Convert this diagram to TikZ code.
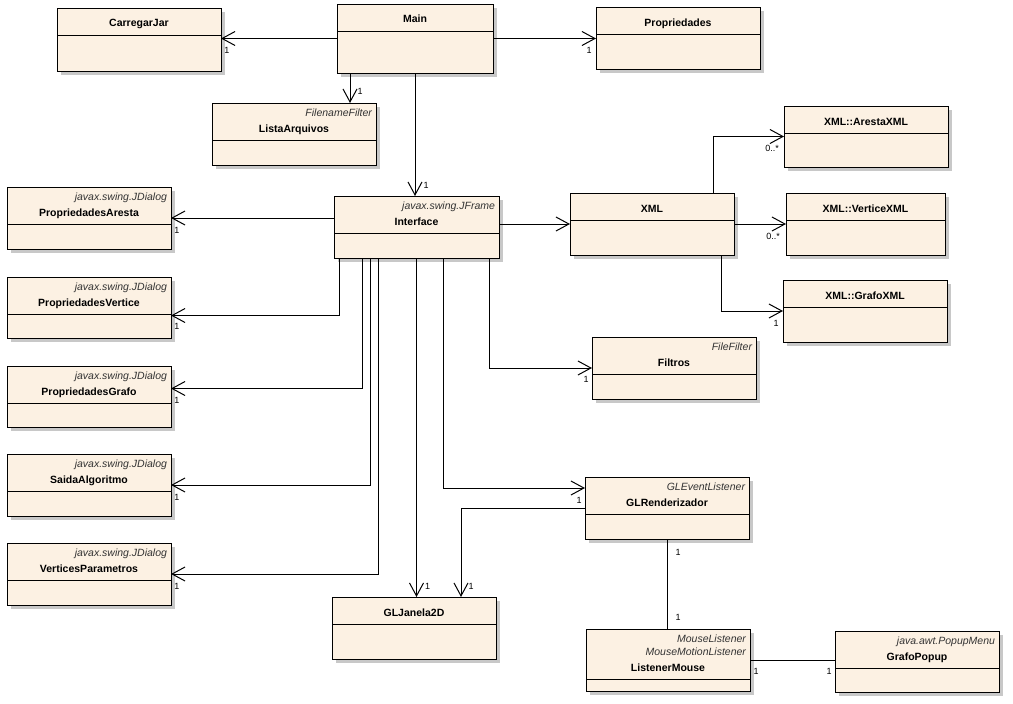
\documentclass[tikz,border=0pt]{standalone}
\usepackage{fontspec}
\setmainfont{Liberation Sans}
\usetikzlibrary{arrows.meta}
\definecolor{classfill}{RGB}{252,241,227}
\definecolor{shadowgray}{RGB}{200,200,200}
% class box: [stereotype]{name}{x1}{y1}{x2}{y2}{stereotype lines}{title}
\newcommand{\umlclass}[8][]{%
  \pgfmathsetmacro{\ydiv}{#4+(#7==0 ? 27 : (#7==1 ? 37 : 50))}
  \pgfmathsetmacro{\ytitle}{#4+(#7==0 ? 19 : (#7==1 ? 29 : 42))}
  \fill[shadowgray] (#3+4,#4+4) rectangle (#5+4,#6+4);
  \node[classbox, minimum width=#5-#3, minimum height=#6-#4] (#2) at ({(#3+#5)/2},{(#4+#6)/2}) {};
  \draw[line width=1pt] (#3,\ydiv) -- (#5,\ydiv);
  \node[classname, anchor=base] (#2-title) at ({(#3+#5)/2},\ytitle) {#8};
  \ifx\relax#1\relax\else
    \node[stereo, anchor=base east] (#2-stereo) at (#5-3.5,#4+13) {#1};
  \fi
}
\begin{document}
\begin{tikzpicture}[x=1pt, y=-1pt, line width=1pt,
  classbox/.style={draw, fill=classfill, line width=1pt, inner sep=0pt, outer sep=0pt},
  classname/.style={font=\fontsize{10.5}{12}\selectfont\bfseries, inner sep=0pt},
  stereo/.style={font=\fontsize{10.5}{12}\selectfont\itshape, text=black!80, inner sep=0pt},
  mult/.style={font=\fontsize{9}{10}\selectfont, inner sep=0pt, anchor=center},
  nav/.style={-{Straight Barb[length=13pt, width=14pt]}}]
\useasboundingbox (0,0) rectangle (1013,704);
% Classes
\umlclass{carregar}{57}{8}{221}{71}{0}{CarregarJar}
\umlclass{main}{337}{4}{493}{73}{0}{Main}
\umlclass{props}{596}{7}{760}{69}{0}{Propriedades}
\umlclass[FilenameFilter]{lista}{212}{103}{376}{165}{1}{ListaArquivos}
\umlclass{axml}{784}{106}{948}{167}{0}{XML::ArestaXML}
\umlclass[javax.swing.JFrame]{iface}{334}{196}{499}{258}{1}{Interface}
\umlclass{xml}{570}{193}{734}{255}{0}{XML}
\umlclass{vxml}{786}{193}{945}{255}{0}{XML::VerticeXML}
\umlclass{gxml}{783}{280}{947}{342}{0}{XML::GrafoXML}
\umlclass[javax.swing.JDialog]{paresta}{7}{187}{171}{249}{1}{PropriedadesAresta}
\umlclass[javax.swing.JDialog]{pvert}{7}{277}{171}{338}{1}{PropriedadesVertice}
\umlclass[javax.swing.JDialog]{pgrafo}{7}{366}{171}{427}{1}{PropriedadesGrafo}
\umlclass[FileFilter]{filtros}{592}{337}{756}{399}{1}{Filtros}
\umlclass[javax.swing.JDialog]{saida}{7}{454}{171}{516}{1}{SaidaAlgoritmo}
\umlclass[GLEventListener]{glrend}{585}{477}{749}{539}{1}{GLRenderizador}
\umlclass[javax.swing.JDialog]{vparam}{7}{543}{171}{605}{1}{VerticesParametros}
\umlclass{janela}{332}{597}{496}{659}{0}{GLJanela2D}
\umlclass[MouseListener]{lmouse}{586}{629}{750}{691}{2}{ListenerMouse}
\node[stereo, anchor=base east] (lmouse-stereo2) at (746.5,655) {MouseMotionListener};
\umlclass[java.awt.PopupMenu]{popup}{835}{631}{999}{692}{1}{GrafoPopup}
% Main
\draw[nav] (main.west) -- (carregar.east |- main.west) node[mult, shift={(6,12)}] {1};
\draw[nav] (main.east) -- (props.west |- main.east) node[mult, shift={(-7,12)}] {1};
\draw[nav] ([xshift=13pt]main.south west) -- ([xshift=13pt]main.south west |- lista.north) node[mult, shift={(10,-12)}] {1};
\draw[nav] (main.south) -- (main.south |- iface.north) node[mult, shift={(11,-11)}] {1};
% Interface
\draw[nav] (iface.west |- paresta.east) -- (paresta.east) node[mult, shift={(6,12)}] {1};
\draw[nav] ([xshift=5pt]iface.south west) |- ([yshift=-8pt]pvert.east) node[mult, shift={(6,11)}] {1};
\draw[nav] ([xshift=28pt]iface.south west) |- ([yshift=8pt]pgrafo.east) node[mult, shift={(6,12)}] {1};
\draw[nav] ([xshift=36pt]iface.south west) |- (saida.east) node[mult, shift={(6,12)}] {1};
\draw[nav] ([xshift=44pt]iface.south west) |- (vparam.east) node[mult, shift={(6,12)}] {1};
\draw[nav] (iface.south) -- (iface.south |- janela.north) node[mult, shift={(11,-11)}] {1};
\draw[nav] ([xshift=109pt]iface.south west) |- ([yshift=20pt]glrend.west) node[mult, shift={(-6,12)}] {1};
\draw[nav] ([xshift=-10pt]iface.south east) |- (filtros.west) node[mult, shift={(-6,11)}] {1};
\draw[nav] (iface.east |- xml.west) -- (xml.west);
% XML
\draw[nav] (xml.east) -- (vxml.west) node[mult, shift={(-13,12)}] {0..*};
\draw[nav] ([xshift=-21pt]xml.north east) |- (axml.west) node[mult, shift={(-12,12)}] {0..*};
\draw[nav] ([xshift=-13pt]xml.south east) |- (gxml.west) node[mult, shift={(-7,12)}] {1};
% GLRenderizador and ListenerMouse
\draw[nav] (glrend.west) -| ([xshift=-35pt]janela.north east) node[mult, shift={(10,-11)}] {1};
\draw (glrend.south) -- (glrend.south |- lmouse.north)
  node[mult, pos=0, shift={(11,13)}] {1} node[mult, pos=1, shift={(11,-12)}] {1};
\draw (lmouse.east) -- (popup.west |- lmouse.east)
  node[mult, pos=0, shift={(6,11)}] {1} node[mult, pos=1, shift={(-6,11)}] {1};
\end{tikzpicture}
\end{document}
